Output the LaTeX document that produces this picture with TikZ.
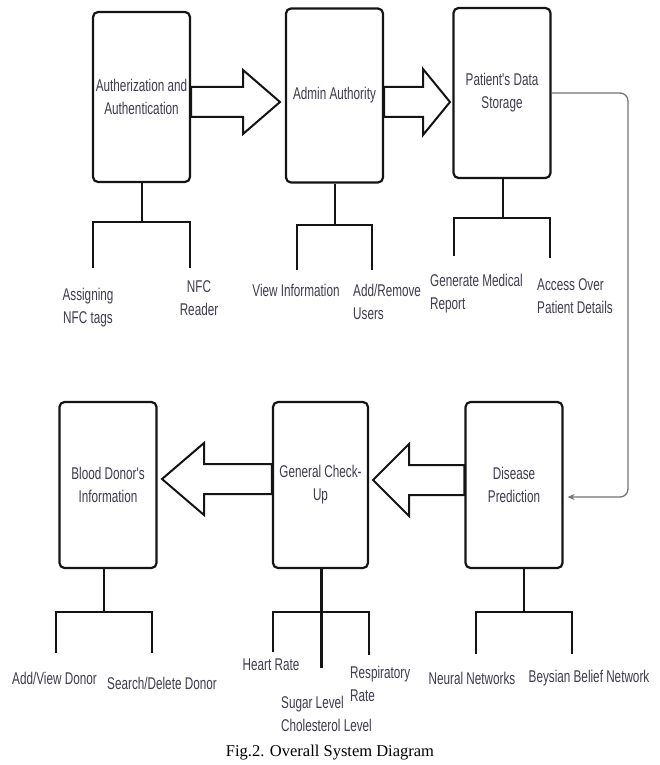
\documentclass[tikz,border=0pt]{standalone}
\usepackage{fontspec}
\setmainfont{Liberation Serif}
\newfontfamily\diagfont{Liberation Sans}[FakeStretch=0.69]
\usepackage{xcolor}
\usepackage{tikz}
\usetikzlibrary{arrows.meta,calc}
\definecolor{lineBlack}{RGB}{20,20,20}
\definecolor{textGray}{RGB}{60,60,78}
\definecolor{loopGray}{RGB}{115,115,115}
\tikzset{
  sysbox/.style={
    rectangle, rounded corners=5pt, draw=lineBlack, line width=2.2pt,
    fill=white, minimum width=97pt, minimum height=166pt, inner sep=0pt,
    align=center, text=textGray, font=\diagfont\fontsize{17}{23}\selectfont
  },
  leaf/.style={inner sep=0pt, text=textGray, font=\diagfont\fontsize{17}{23}\selectfont},
  branch/.style={line width=2pt, draw=lineBlack},
  fatArrow/.style={line width=2pt, draw=lineBlack, fill=white, line join=miter},
  loopArrow/.style={-{Stealth[length=7pt,width=6pt]}, line width=1.3pt, color=loopGray,
    rounded corners=8pt, shorten >=4pt}
}
% #1 tail, #2 tip, #3 head length, #4 half width of head
\newcommand{\fatarrow}[4]{%
  \draw[fatArrow] let \p1=(#1), \p2=(#2), \n1={#3*sign(\x2-\x1)} in
    (\x1,\y2+15pt) -- (\x2-\n1,\y2+15pt) -- (\x2-\n1,\y2+#4) -- (\x2,\y2)
    -- (\x2-\n1,\y2-#4) -- (\x2-\n1,\y2-15pt) -- (\x1,\y2-15pt) -- cycle;}

\begin{document}
\begin{tikzpicture}[x=1pt, y=-1pt]
        \useasboundingbox (0,0) rectangle (660,765);

        \node[sysbox, minimum height=170pt] (auth) at (141.5,97) {Autherization and\\Authentication};
        \node[sysbox, minimum height=174pt] (admin) at (334.5,95.5) {Admin Authority};
        \node[sysbox, minimum height=170pt] (store) at (502,93) {Patient's Data\\Storage};
        \node[sysbox] (donor) at (108,485) {Blood Donor's\\Information};
        \node[sysbox, minimum width=95pt] (checkup) at (320.5,485) {General Check-\\Up};
        \node[sysbox] (predict) at (514,485) {Disease\\Prediction};

        \coordinate (tipA) at (280,102);
        \coordinate (tipB) at (450,102);
        \coordinate (tipC) at (373,480);
        \coordinate (tipD) at (162,479);
        \fatarrow{auth.east}{tipA}{37pt}{32pt}
        \fatarrow{admin.east}{tipB}{27pt}{33pt}
        \fatarrow{predict.west}{tipC}{36pt}{36pt}
        \fatarrow{checkup.west}{tipD}{42pt}{36pt}

        \coordinate (loopturn) at (628,300);
        \draw[loopArrow] (store.east) -| (loopturn) |- ([yshift=-12pt]predict.east);

        \coordinate (authfork) at (142,222);
        \coordinate (assignleg) at (93,268);
        \coordinate (nfcleg) at (190,268);
        \draw[branch] (auth.south -| authfork) -- (authfork);
        \draw[branch] (assignleg) |- (authfork) -| (nfcleg);

        \coordinate (adminfork) at (335,225);
        \coordinate (viewleg) at (297,270);
        \coordinate (userleg) at (372,270);
        \draw[branch] (admin.south -| adminfork) -- (adminfork);
        \draw[branch] (viewleg) |- (adminfork) -| (userleg);

        \coordinate (storefork) at (503,218);
        \coordinate (reportleg) at (454,256);
        \coordinate (accessleg) at (550,258);
        \draw[branch] (store.south -| storefork) -- (storefork);
        \draw[branch] (reportleg) |- (storefork) -| (accessleg);

        \coordinate (donorfork) at (104,612);
        \coordinate (addleg) at (56,653);
        \coordinate (searchleg) at (152,653);
        \draw[branch] (donor.south -| donorfork) -- (donorfork);
        \draw[branch] (addleg) |- (donorfork) -| (searchleg);

        \coordinate (checkfork) at (321,612);
        \coordinate (heartleg) at (273,652);
        \coordinate (respleg) at (369,655);
        \coordinate (sugarleg) at (321,668);
        \draw[branch, line width=3pt] (checkup.south -| checkfork) -- (sugarleg);
        \draw[branch] (heartleg) |- (checkfork) -| (respleg);

        \coordinate (predfork) at (524,612);
        \coordinate (neuralleg) at (476,654);
        \coordinate (beliefleg) at (572,654);
        \draw[branch] (predict.south -| predfork) -- (predfork);
        \draw[branch] (neuralleg) |- (predfork) -| (beliefleg);

        \node[leaf, align=center] (assigntags) at (88,308) {Assigning\\NFC tags};
        \node[leaf, align=center] (nfcreader) at (199,298) {NFC\\Reader};
        \node[leaf] (viewinfo) at (296,290) {View Information};
        \node[leaf, anchor=west, align=left] (adduser) at (353,301.5) {Add/Remove\\Users};
        \node[leaf, anchor=west, align=left] (genreport) at (430,293.5) {Generate Medical\\Report};
        \node[leaf, anchor=west, align=left] (accessdet) at (537,296.5) {Access Over\\Patient Details};

        \node[leaf] (adddonor) at (54.5,678) {Add/View Donor};
        \node[leaf] (searchdonor) at (162,683) {Search/Delete Donor};
        \node[leaf] (heartrate) at (271,665) {Heart Rate};
        \node[leaf, anchor=west, align=left] (sugarlvl) at (281,713.5) {Sugar Level\\Cholesterol Level};
        \node[leaf, anchor=west, align=left] (resprate) at (350,683.5) {Respiratory\\Rate};
        \node[leaf] (neuralnet) at (472,678) {Neural Networks};
        \node[leaf] (beliefnet) at (589,678) {Beysian Belief Network};

        \node[font=\fontsize{16.5}{20}\selectfont] (caption) at (330,753) {Fig.2. Overall System Diagram};
\end{tikzpicture}
\end{document}
